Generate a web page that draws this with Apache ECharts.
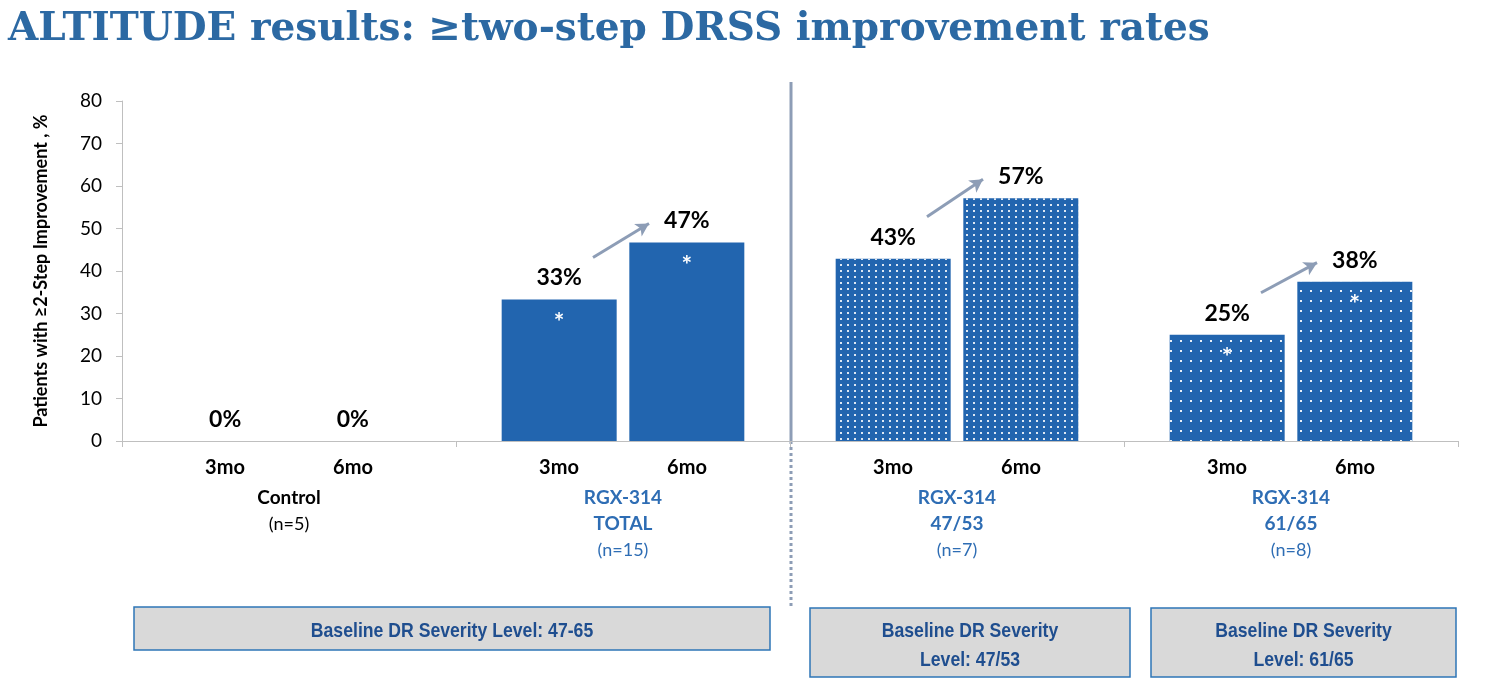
<!DOCTYPE html>
<html>
<head>
<meta charset="utf-8">
<title>ALTITUDE results</title>
<script src="https://cdn.jsdelivr.net/npm/echarts@6/dist/echarts.min.js"></script>
<style>
  html, body { margin: 0; padding: 0; background: #fff; }
  #chart { width: 1488px; height: 688px; }
</style>
</head>
<body>
<div id="chart"></div>
<script>
// values
const groupNames = ['Control', 'RGX-314\nTOTAL', 'RGX-314\n47/53', 'RGX-314\n61/65'];
const groupN = ['(n=5)', '(n=15)', '(n=7)', '(n=8)'];
const timepoints = ['3mo', '6mo'];
const rate3mo = [0, 33.3, 42.9, 25.0];
const rate6mo = [0, 46.7, 57.1, 37.5];
const starred = [false, true, false, true];
const yMin = 0, yMax = 80, yStep = 10;
const severityBoxes = [
  'Baseline DR Severity Level: 47-65',
  'Baseline DR Severity\nLevel: 47/53',
  'Baseline DR Severity\nLevel: 61/65'
];

const BAR_BLUE = '#2265AF';
const LABEL_BLUE = '#2E6DB4';
const ARROW = '#8D9DB6';
const FONT = 'Lato, "Open Sans", sans-serif';

// dotted fills for the two severity subgroups
const denseDots = {
  symbol: 'rect', symbolSize: 1, color: 'rgba(255,255,255,0.85)',
  dashArrayX: [1.5, 4.5], dashArrayY: [1.5, 3.5]
};
const sparseDots = {
  symbol: 'rect', symbolSize: 1, color: 'rgba(255,255,255,0.9)',
  dashArrayX: [2, 8], dashArrayY: [2, 8]
};
const groupDecal = [null, null, denseDots, sparseDots];

function barData(values) {
  return values.map(function (v, i) {
    const item = { value: v };
    if (groupDecal[i]) item.itemStyle = { decal: groupDecal[i] };
    return item;
  });
}

function barLabel(p) {
  return '{p|' + Math.round(p.value) + '%}\n{s|' + (starred[p.dataIndex] ? '*' : ' ') + '}';
}

function axisLabel(value, index) {
  const ctrl = index === 0;
  let s = timepoints.map(function (t) { return '{m|' + t + '}'; }).join('');
  groupNames[index].split('\n').forEach(function (t) {
    s += '\n{' + (ctrl ? 'gk' : 'gb') + '|' + t + '}';
  });
  s += '\n{' + (ctrl ? 'nk' : 'nb') + '|' + groupN[index] + '}';
  return s;
}

const labelCfg = {
  show: true,
  position: 'top',
  distance: 0,
  offset: [0, 48],
  formatter: barLabel,
  rich: {
    p: { fontFamily: FONT, fontSize: 23, fontWeight: 'bold', color: '#000', lineHeight: 39 },
    s: { fontFamily: FONT, fontSize: 25, fontWeight: 'bold', color: '#fff', lineHeight: 50 }
  }
};

function boxGraphic(x, y, w, h, text) {
  return [
    {
      type: 'rect', shape: { x: x, y: y, width: w, height: h },
      style: { fill: '#D9D9D9', stroke: '#2E75B6', lineWidth: 1.5 }
    },
    {
      // narrow bold face, squeezed like the slide's Arial Narrow
      type: 'text', x: x + w / 2, y: y + h / 2 + 3, scaleX: 0.84,
      style: {
        text: text, fill: '#1F4E8F', x: 0, y: 0,
        font: 'bold 21px "Liberation Sans", Arial, sans-serif',
        align: 'center', verticalAlign: 'middle', textAlign: 'center', textVerticalAlign: 'middle',
        lineHeight: 29
      }
    }
  ];
}

const chart = echarts.init(document.getElementById('chart'));

const option = {
  animation: false,
  backgroundColor: '#ffffff',
  title: {
    text: 'ALTITUDE results: ≥two-step DRSS improvement rates',
    left: 3, top: 5,
    textStyle: { fontFamily: '"DejaVu Serif", serif', fontWeight: 'bold', fontSize: 39, color: '#2C69A3' }
  },
  grid: { left: 122, right: 30, top: 101, bottom: 247 },
  xAxis: {
    type: 'category',
    data: groupNames,
    axisLine: { lineStyle: { color: '#BFBFBF', width: 1 } },
    axisTick: { show: true, length: 6, lineStyle: { color: '#BFBFBF' } },
    axisLabel: {
      interval: 0, margin: 10, formatter: axisLabel,
      rich: {
        m: { width: 128, align: 'center', fontFamily: FONT, fontSize: 20, fontWeight: 'bold', color: '#000', lineHeight: 34 },
        gk: { fontFamily: FONT, fontSize: 19, fontWeight: 'bold', color: '#000', lineHeight: 26 },
        gb: { fontFamily: FONT, fontSize: 19, fontWeight: 'bold', color: LABEL_BLUE, lineHeight: 26 },
        nk: { fontFamily: FONT, fontSize: 18, color: '#000', lineHeight: 26 },
        nb: { fontFamily: FONT, fontSize: 18, color: LABEL_BLUE, lineHeight: 26 }
      }
    }
  },
  yAxis: {
    type: 'value',
    min: yMin, max: yMax, interval: yStep,
    name: 'Patients with ≥2-Step Improvement , %',
    nameLocation: 'middle', nameRotate: 90, nameGap: 72,
    nameTextStyle: { fontFamily: FONT, fontSize: 18, fontWeight: 'bold', color: '#000' },
    axisLine: { show: true, lineStyle: { color: '#BFBFBF', width: 1 } },
    axisTick: { show: true, length: 6, lineStyle: { color: '#BFBFBF' } },
    axisLabel: { fontFamily: FONT, fontSize: 19, color: '#000', margin: 20 },
    splitLine: { show: false }
  },
  series: [
    {
      name: timepoints[0], type: 'bar', data: barData(rate3mo),
      barWidth: 115, barGap: '11%',
      itemStyle: { color: BAR_BLUE }, label: labelCfg
    },
    {
      name: timepoints[1], type: 'bar', data: barData(rate6mo),
      barWidth: 115, barGap: '11%',
      itemStyle: { color: BAR_BLUE }, label: labelCfg
    }
  ],
  graphic: [
    { type: 'line', shape: { x1: 791, y1: 82, x2: 791, y2: 441 }, style: { stroke: ARROW, lineWidth: 3 } },
    { type: 'line', shape: { x1: 791, y1: 441, x2: 791, y2: 607 }, style: { stroke: ARROW, lineWidth: 3, lineDash: [3, 3] } }
  ]
    .concat(boxGraphic(134, 607, 636, 43, severityBoxes[0]))
    .concat(boxGraphic(810, 608, 320, 69, severityBoxes[1]))
    .concat(boxGraphic(1151, 608, 305, 69, severityBoxes[2]))
};

chart.setOption(option);

// trend arrows between the 3mo and 6mo labels of the treated groups
const arrows = [];
for (let g = 1; g < groupNames.length; g++) {
  const cx = chart.convertToPixel({ xAxisIndex: 0 }, g);
  const y3 = chart.convertToPixel({ yAxisIndex: 0 }, rate3mo[g]);
  const y6 = chart.convertToPixel({ yAxisIndex: 0 }, rate6mo[g]);
  arrows.push([{ x: cx - 30, y: y3 - 42 }, { x: cx + 26, y: y6 - 19 }]);
}
chart.setOption({
  series: [{
    markLine: {
      silent: true, animation: false,
      symbol: ['none', 'arrow'], symbolSize: [11, 13],
      lineStyle: { color: ARROW, width: 3, type: 'solid' },
      label: { show: false },
      data: arrows
    }
  }]
});
</script>
</body>
</html>
